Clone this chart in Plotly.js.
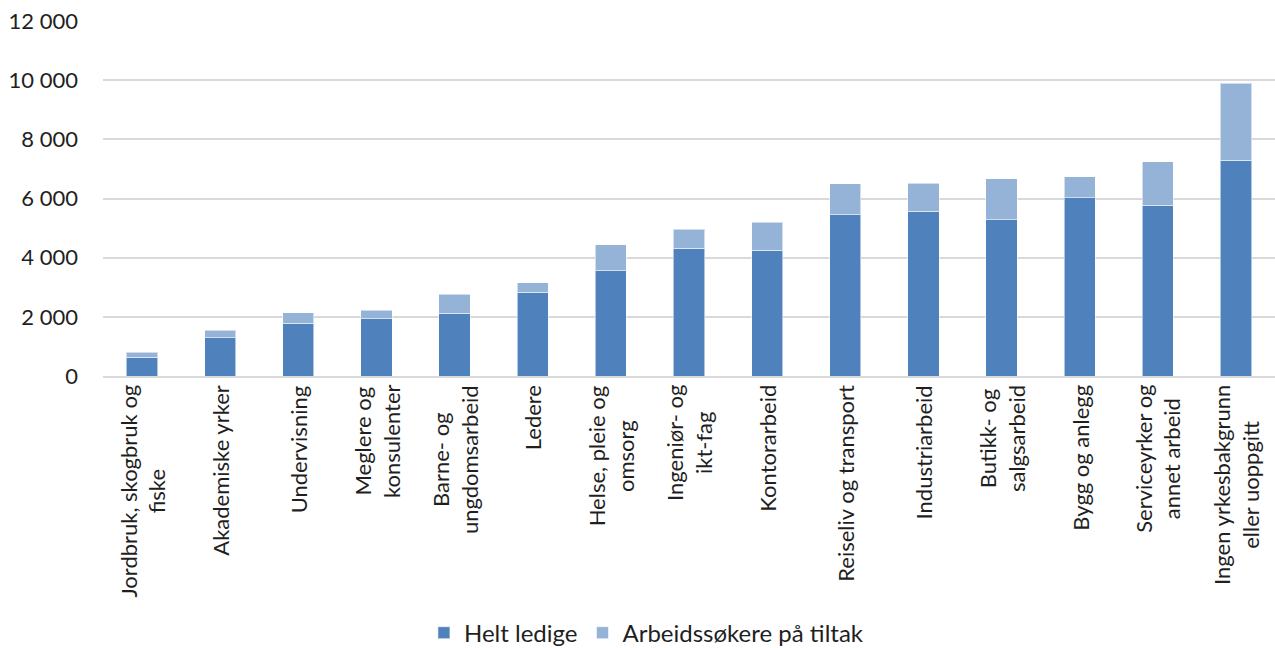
<!DOCTYPE html>
<html>
<head>
<meta charset="utf-8">
<script src="https://cdn.plot.ly/plotly-3.0.1.min.js"></script>
<style>html,body{margin:0;padding:0;background:#fff;}#chart{width:1275px;height:648px;}</style>
</head>
<body>
<div id="chart"></div>
<script>
var categories = [
  "Jordbruk, skogbruk og<br>fiske",
  "Akademiske yrker",
  "Undervisning",
  "Meglere og<br>konsulenter",
  "Barne- og<br>ungdomsarbeid",
  "Ledere",
  "Helse, pleie og<br>omsorg",
  "Ingeniør- og<br>ikt-fag",
  "Kontorarbeid",
  "Reiseliv og transport",
  "Industriarbeid",
  "Butikk- og<br>salgsarbeid",
  "Bygg og anlegg",
  "Serviceyrker og<br>annet arbeid",
  "Ingen yrkesbakgrunn<br>eller uoppgitt"
];
var heltLedige = [635, 1300, 1785, 1935, 2115, 2830, 3560, 4325, 4255, 5450, 5575, 5285, 6030, 5780, 7290];
var tiltak = [170, 240, 350, 280, 650, 315, 870, 630, 945, 1045, 935, 1375, 700, 1465, 2600];
var tickVals = [0, 2000, 4000, 6000, 8000, 10000, 12000];

var fontFam = "Lato, 'Open Sans', sans-serif";
var txtColor = "#1f1f1f";
var traces = [
  {type: "bar", name: "Helt ledige", x: categories, y: heltLedige,
   marker: {color: "#4F81BD", line: {color: "rgba(255,255,255,0.55)", width: 1}}},
  {type: "bar", name: "Arbeidssøkere på tiltak", x: categories, y: tiltak,
   marker: {color: "#95B3D7", line: {color: "rgba(255,255,255,0.55)", width: 1}}}
];
var annotations = categories.map(function (c) {
  return {x: c, xref: "x", y: 0, yref: "paper", yanchor: "top", xanchor: "center",
          yshift: -7, textangle: -90, align: "center", showarrow: false, text: c,
          font: {family: fontFam, size: 22, color: txtColor}};
});
var layout = {
  width: 1275, height: 648,
  barmode: "stack",
  bargap: 0.6,
  separators: ", ",
  paper_bgcolor: "#fff", plot_bgcolor: "#fff",
  margin: {l: 103, r: 0, t: 21, b: 272},
  font: {family: fontFam, size: 22, color: txtColor},
  xaxis: {ticks: "", showline: true, linecolor: "#D9D9D9", linewidth: 2,
          showticklabels: false, automargin: false},
  yaxis: {range: [0, 12000], tickvals: tickVals, tickformat: ",d", showgrid: true,
          gridcolor: "#D9D9D9", gridwidth: 2, zeroline: false, ticks: "",
          ticklabelstandoff: 24,
          tickfont: {family: fontFam, size: 22, color: txtColor}, automargin: false},
  annotations: annotations,
  showlegend: true,
  legend: {orientation: "h", xref: "container", yref: "container", x: 0.507, xanchor: "center",
           y: 0.023, yanchor: "middle", font: {family: fontFam, size: 24, color: txtColor},
           traceorder: "normal", itemwidth: 30}
};
Plotly.newPlot("chart", traces, layout, {displayModeBar: false, staticPlot: true});
</script>
</body>
</html>
